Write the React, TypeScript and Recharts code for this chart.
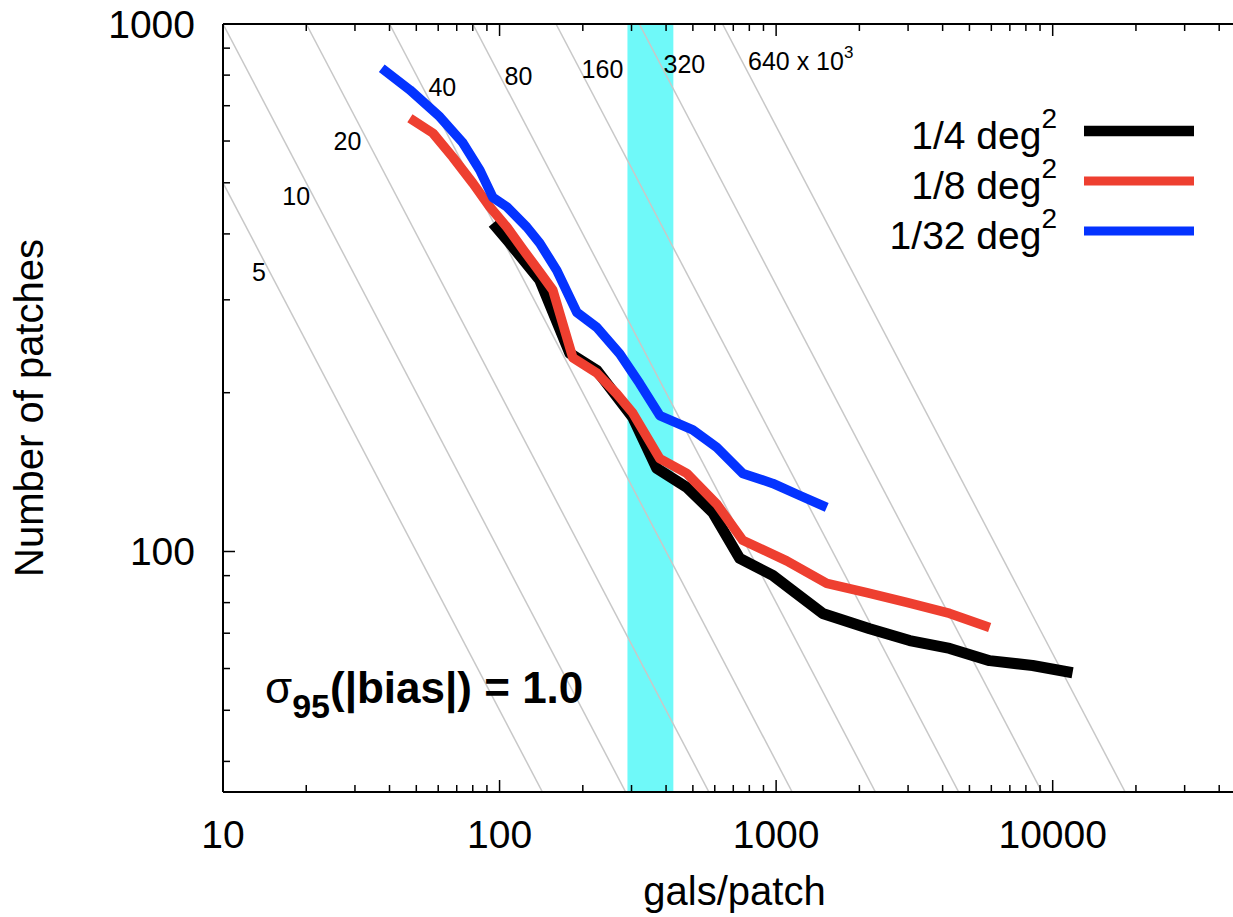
import React from "react";
import {
  LineChart,
  Line,
  XAxis,
  YAxis,
  ReferenceArea,
  ReferenceLine,
  ReferenceDot,
  Legend,
} from "recharts";

const FONT = "'Liberation Sans', Arial, Helvetica, sans-serif";

// 1/4 deg^2 patches
const quarterX = [94.6, 109, 139.8, 179.6, 224.7, 303.2, 370.3, 475.3, 590, 738.6, 972, 1148, 1473, 2179, 3040, 4241, 5916, 8459, 11800];
const quarterY = [419, 384, 327, 237.5, 220.5, 179.6, 143.7, 132.3, 118.6, 97, 90.1, 84.3, 76.3, 71.4, 67.8, 65.5, 62.1, 60.8, 58.9];

// 1/8 deg^2 patches
const eighthX = [47.4, 57.4, 67.8, 80.1, 92.2, 106.3, 121.4, 136.4, 155.8, 184, 224.7, 265.4, 303.2, 379.6, 475.3, 610, 757, 1092, 1524, 2126, 2965, 4241, 5916];
const eighthY = [663, 621, 559, 499, 450, 412, 374, 344.5, 313, 233, 218, 199, 183, 150, 140.6, 123, 105, 96, 87, 83.6, 80.1, 76.3, 71.8];

// 1/32 deg^2 patches
const thirtySecondX = [37.5, 47.4, 60.8, 73.7, 84.9, 94.6, 106.3, 125.5, 139.8, 161.1, 190.3, 224.7, 272.1, 321.4, 379.6, 499.5, 610, 757, 972, 1217, 1524];
const thirtySecondY = [824, 750, 667, 595, 528, 469, 450, 412, 384, 341, 284, 266, 237, 208, 181, 170, 157.5, 140.6, 134.6, 127.7, 121.2];

// total galaxies (x10^3) for the grey N * gals = const guides
const totals = [5, 10, 20, 40, 80, 160, 320, 640];
const totalLabels = ["5", "10", "20", "40", "80", "160", "320", "640 x 10"];
const totalLabelX = [13.5, 18.4, 28.2, 62.1, 117, 235.5, 466, 1227];
const totalLabelY = [338, 472, 600, 758, 797, 821, 840, 851];

const band = [290, 425];

const X_DOMAIN = [10, 50000];
const Y_DOMAIN = [35, 1000];
const xMajor = [10, 100, 1000, 10000];
const xTicks = [
  10, 20, 30, 40, 50, 60, 70, 80, 90,
  100, 200, 300, 400, 500, 600, 700, 800, 900,
  1000, 2000, 3000, 4000, 5000, 6000, 7000, 8000, 9000,
  10000, 20000, 30000, 40000, 50000,
];
const yMajor = [100, 1000];
const yTicks = [40, 50, 60, 70, 80, 90, 100, 200, 300, 400, 500, 600, 700, 800, 900, 1000];

const toPoints = (xs: number[], ys: number[]) => xs.map((x, i) => ({ x, y: ys[i] }));

const series = [
  { name: "1/4 deg", data: toPoints(quarterX, quarterY), color: "#000000", width: 11 },
  { name: "1/8 deg", data: toPoints(eighthX, eighthY), color: "#ee3f30", width: 9.5 },
  { name: "1/32 deg", data: toPoints(thirtySecondX, thirtySecondY), color: "#0433ff", width: 9.5 },
];

const BottomTick = (props: any) => {
  const { x, y, payload } = props;
  const major = xMajor.includes(payload.value);
  return (
    <g>
      <line x1={x} y1={y} x2={x} y2={y - (major ? 12 : 7)} stroke="#000" strokeWidth={1.5} />
      {major && (
        <text x={x} y={y + 56} textAnchor="middle" fontSize={39} fontFamily={FONT} fill="#000">
          {payload.value}
        </text>
      )}
    </g>
  );
};

const TopTick = (props: any) => {
  const { x, y, payload } = props;
  const major = xMajor.includes(payload.value);
  return <line x1={x} y1={y} x2={x} y2={y + (major ? 12 : 7)} stroke="#000" strokeWidth={1.5} />;
};

const LeftTick = (props: any) => {
  const { x, y, payload } = props;
  const major = yMajor.includes(payload.value);
  return (
    <g>
      <line x1={x} y1={y} x2={x + (major ? 12 : 7)} y2={y} stroke="#000" strokeWidth={1.5} />
      {major && (
        <text x={x - 28} y={y} dy="0.35em" textAnchor="end" fontSize={39} fontFamily={FONT} fill="#000">
          {payload.value}
        </text>
      )}
    </g>
  );
};

const renderLegend = (props: any) => {
  const payload = props.payload || [];
  const rows = series
    .map((s) => ({ s, entry: payload.find((p: any) => p.value === s.name) }))
    .filter((r) => r.entry);
  return (
    <svg width={340} height={170}>
      {rows.map(({ s, entry }: any, i: number) => {
        const cy = 41 + i * 50;
        return (
          <g key={entry.value}>
            <text x={187} y={cy + 18} textAnchor="end" fontSize={39} fontFamily={FONT} fill="#000">
              {entry.value}
              <tspan fontSize={28} dy={-21}>2</tspan>
            </text>
            <line x1={214} x2={324} y1={cy} y2={cy} stroke={entry.color} strokeWidth={s.width === 11 ? 10.5 : 9} />
          </g>
        );
      })}
    </svg>
  );
};

const guideLabel = (text: string, last: boolean) => (props: any) => {
  const { x, y } = props.viewBox;
  return (
    <text x={x} y={y} dy="0.35em" textAnchor="middle" fontSize={25} fontFamily={FONT} fill="#000">
      {text}
      {last && <tspan fontSize={17} dy={-12}>3</tspan>}
    </text>
  );
};

const sigmaLabel = (props: any) => {
  const { x, y } = props.viewBox;
  return (
    <text x={x} y={y} fontSize={44} fontWeight="bold" fontFamily={FONT} fill="#000">
      <tspan fontWeight="normal">σ</tspan>
      <tspan fontSize={34} dy={15}>95</tspan>
      <tspan dy={-15}>(|bias|) = 1.0</tspan>
    </text>
  );
};

export default function App() {
  return (
    <div style={{ position: "fixed", left: 0, top: 0, width: 1233, height: 917, overflow: "hidden", background: "#fff" }}>
      <LineChart
        width={1260}
        height={917}
        margin={{ top: 23, right: 14, bottom: 0, left: 23 }}
        style={{ fontFamily: FONT }}
      >
        <ReferenceArea x1={band[0]} x2={band[1]} fill="#6ff9f9" fillOpacity={1} stroke="none" ifOverflow="hidden" />
        {totals.map((t) => {
          const c = t * 1000;
          return (
            <ReferenceLine
              key={t}
              segment={[
                { x: c / Y_DOMAIN[1], y: Y_DOMAIN[1] },
                { x: c / Y_DOMAIN[0], y: Y_DOMAIN[0] },
              ]}
              stroke="#c8c8c8"
              strokeWidth={1.5}
              ifOverflow="hidden"
            />
          );
        })}
        {series.map((s) => (
          <Line
            key={s.name}
            data={s.data}
            dataKey="y"
            name={s.name}
            type="linear"
            stroke={s.color}
            strokeWidth={s.width}
            strokeLinejoin="round"
            dot={false}
            isAnimationActive={false}
          />
        ))}
        {/* invisible copy bound to the mirrored top axis so it gets drawn */}
        <Line
          xAxisId="top"
          data={series[0].data}
          dataKey="y"
          stroke="none"
          legendType="none"
          dot={false}
          activeDot={false}
          isAnimationActive={false}
        />
        <XAxis
          dataKey="x"
          type="number"
          scale="log"
          domain={X_DOMAIN}
          allowDataOverflow
          ticks={xTicks}
          interval={0}
          height={125}
          tickSize={0}
          tickMargin={0}
          tickLine={false}
          tick={<BottomTick />}
          axisLine={{ stroke: "#000", strokeWidth: 2 }}
          label={{ value: "gals/patch", position: "insideBottom", offset: 12, fontSize: 40, fill: "#000", fontFamily: FONT }}
        />
        <XAxis
          xAxisId="top"
          dataKey="x"
          orientation="top"
          type="number"
          scale="log"
          domain={X_DOMAIN}
          allowDataOverflow
          ticks={xTicks}
          interval={0}
          height={1}
          tickSize={0}
          tickMargin={0}
          tickLine={false}
          tick={<TopTick />}
          axisLine={{ stroke: "#000", strokeWidth: 2 }}
        />
        <YAxis
          type="number"
          scale="log"
          domain={Y_DOMAIN}
          allowDataOverflow
          ticks={yTicks}
          interval={0}
          width={200}
          tickSize={0}
          tickMargin={0}
          tickLine={false}
          tick={<LeftTick />}
          axisLine={{ stroke: "#000", strokeWidth: 2 }}
          label={{
            value: "Number of patches",
            angle: -90,
            position: "insideLeft",
            offset: 6,
            fontSize: 40,
            fill: "#000",
            fontFamily: FONT,
            style: { textAnchor: "middle" },
          }}
        />
        {totals.map((t, i) => (
          <ReferenceDot
            key={"lbl" + t}
            x={totalLabelX[i]}
            y={totalLabelY[i]}
            r={0}
            fill="none"
            stroke="none"
            label={guideLabel(totalLabels[i], i === totals.length - 1)}
          />
        ))}
        <ReferenceDot x={14.19} y={51.7} r={0} fill="none" stroke="none" label={sigmaLabel} />
        <Legend
          layout="vertical"
          align="center"
          verticalAlign="middle"
          content={renderLegend}
          wrapperStyle={{ left: 870, top: 90, width: 340, height: 170 }}
        />
      </LineChart>
    </div>
  );
}
